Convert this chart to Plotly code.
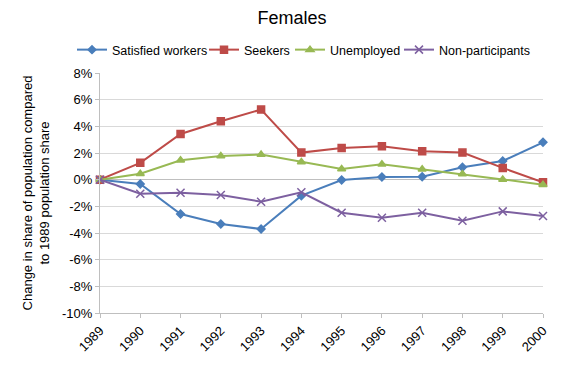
import plotly.graph_objects as go

years = [1989, 1990, 1991, 1992, 1993, 1994, 1995, 1996, 1997, 1998, 1999, 2000]
satisfied = [0.0, -0.33, -2.58, -3.33, -3.70, -1.20, -0.03, 0.20, 0.22, 0.93, 1.40, 2.80]
seekers = [0.0, 1.26, 3.43, 4.38, 5.26, 2.03, 2.38, 2.50, 2.13, 2.03, 0.88, -0.20]
unemployed = [0.0, 0.45, 1.45, 1.78, 1.88, 1.33, 0.80, 1.15, 0.78, 0.43, 0.02, -0.38]
nonpart = [0.0, -1.05, -0.98, -1.15, -1.65, -0.95, -2.48, -2.86, -2.48, -3.08, -2.38, -2.73]

y_ticks = [-10, -8, -6, -4, -2, 0, 2, 4, 6, 8]
y_labels = [f"{v}%" for v in y_ticks]

series = [
    ("Satisfied workers", satisfied, "#4A7EBB", "diamond", 6),
    ("Seekers", seekers, "#BE4B48", "square", 7),
    ("Unemployed", unemployed, "#98B954", "triangle-up", 7),
    ("Non-participants", nonpart, "#7D60A0", "x-thin-open", 8),
]
legend_ids = ["legend", "legend2", "legend3", "legend4"]
legend_x = [72, 204, 290, 399]  # left edge in px of each legend entry

fig = go.Figure()
for (name, vals, color, sym, size), lid in zip(series, legend_ids):
    fig.add_trace(go.Scatter(
        x=years, y=vals, name=name, mode="lines+markers",
        line=dict(color=color, width=2),
        marker=dict(symbol=sym, size=size, color=color,
                    line=dict(color=color, width=1.5)),
        cliponaxis=False, legend=lid,
    ))

font = "Liberation Sans, Arial, sans-serif"
W, H = 584, 381
legend_common = dict(orientation="h", xref="container", yref="container",
                     xanchor="left", yanchor="middle", y=1 - 50 / H,
                     font=dict(size=12.5), itemwidth=30,
                     bgcolor="rgba(0,0,0,0)")
layout_legends = {lid: dict(legend_common, x=lx / W) for lid, lx in zip(legend_ids, legend_x)}

fig.update_layout(
    width=W, height=H,
    paper_bgcolor="white", plot_bgcolor="white",
    margin=dict(l=100, r=41, t=73, b=68, autoexpand=False),
    font=dict(family=font, size=13, color="black"),
    title=dict(text="Females", x=0.5, xref="container", xanchor="center",
               y=1 - 18 / H, yanchor="middle",
               font=dict(size=18, family=font, color="black")),
    showlegend=True,
    **layout_legends,
)
fig.update_xaxes(
    range=[1989, 2000], tickmode="array", tickvals=years,
    ticktext=[str(y) for y in years], tickangle=-45,
    showgrid=False, showline=True, linecolor="#BFBFBF", linewidth=1,
    ticks="outside", ticklen=4, tickcolor="#BFBFBF",
    zeroline=False, tickfont=dict(size=13),
)
fig.update_yaxes(
    range=[-10, 8], tickmode="array", tickvals=y_ticks, ticktext=y_labels,
    showgrid=True, gridcolor="#D9D9D9", gridwidth=1,
    showline=True, linecolor="#BFBFBF", linewidth=1,
    ticks="outside", ticklen=4, tickcolor="#BFBFBF",
    zeroline=True, zerolinecolor="#BFBFBF", zerolinewidth=1,
    tickfont=dict(size=13),
    title=dict(text="Change in share of population compared<br>to 1989 population share",
               font=dict(size=13), standoff=9),
)

fig.write_html("out.html", config={"displayModeBar": False},
               post_script="document.body.style.margin='0';")
